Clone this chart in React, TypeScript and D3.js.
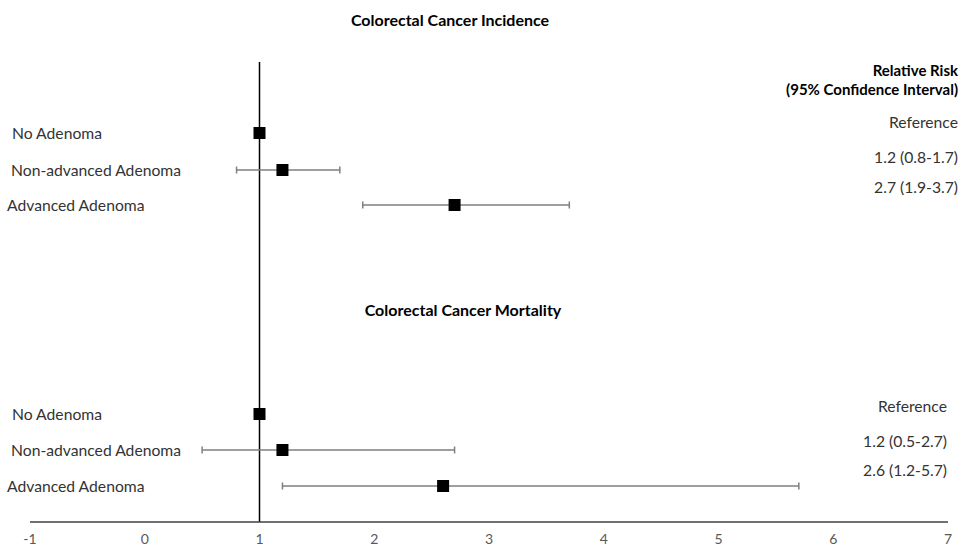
import React from 'react';
import * as d3 from 'd3';

const groups = ['Colorectal Cancer Incidence', 'Colorectal Cancer Mortality'];
const categories = ['No Adenoma', 'Non-advanced Adenoma', 'Advanced Adenoma'];
// relative risk, lower CI, upper CI per group
const incidenceRR = [1.0, 1.2, 2.7];
const incidenceLow = [null, 0.8, 1.9];
const incidenceHigh = [null, 1.7, 3.7];
const mortalityRR = [1.0, 1.2, 2.6];
const mortalityLow = [null, 0.5, 1.2];
const mortalityHigh = [null, 2.7, 5.7];
const incidenceText = ['Reference', '1.2 (0.8-1.7)', '2.7 (1.9-3.7)'];
const mortalityText = ['Reference', '1.2 (0.5-2.7)', '2.6 (1.2-5.7)'];
const xTicks = [-1, 0, 1, 2, 3, 4, 5, 6, 7];

const W = 961;
const H = 549;
const FONT = 'Lato, "Open Sans", sans-serif';

const App = () => {
  const x = d3.scaleLinear().domain([-1, 7]).range([30, 948]);
  // row positions (top to bottom)
  const y = d3.scaleOrdinal<string, number>()
    .domain(['i0', 'i1', 'i2', 'm0', 'm1', 'm2'])
    .range([133, 170, 205, 414, 450, 486]);

  const sets = [
    { key: 'i', rr: incidenceRR, lo: incidenceLow, hi: incidenceHigh, txt: incidenceText, txtY: [122, 157, 187], txtX: 958 },
    { key: 'm', rr: mortalityRR, lo: mortalityLow, hi: mortalityHigh, txt: mortalityText, txtY: [406, 441, 470], txtX: 947 },
  ];
  const labelX = [12, 11, 7];
  const axisY = 522;
  const sq = 12;

  return (
    <svg width={W} height={H} style={{ position: 'absolute', left: 0, top: 0, background: '#fff' }}>
      <text x={450} y={26} textAnchor="middle" fontFamily={FONT} fontWeight="bold" fontSize={16} fill="#000">{groups[0]}</text>
      <text x={463} y={316} textAnchor="middle" fontFamily={FONT} fontWeight="bold" fontSize={16} fill="#000">{groups[1]}</text>

      <text x={958} y={76} textAnchor="end" fontFamily={FONT} fontWeight="bold" fontSize={15} fill="#000">Relative Risk</text>
      <text x={958} y={95} textAnchor="end" fontFamily={FONT} fontWeight="bold" fontSize={15} fill="#000">(95% Confidence  Interval)</text>

      {/* reference line at RR = 1 */}
      <line x1={x(1)} x2={x(1)} y1={62} y2={axisY} stroke="#000" strokeWidth={1.5} />

      {/* x axis */}
      <line x1={x(-1)} x2={x(7)} y1={axisY} y2={axisY} stroke="#404040" strokeWidth={1.5} />
      {xTicks.map(t => (
        <text key={t} x={x(t)} y={544} textAnchor="middle" fontFamily={FONT} fontSize={14} fill="#595959">{t}</text>
      ))}

      {sets.map(s => (
        <g key={s.key}>
          {categories.map((c, i) => {
            const cy = y(s.key + i);
            const lo = s.lo[i];
            const hi = s.hi[i];
            return (
              <g key={c}>
                <text x={labelX[i]} y={cy + 6} fontFamily={FONT} fontSize={15.7} fill="#333">{c}</text>
                {lo != null && hi != null && (
                  <g stroke="#7f7f7f" strokeWidth={1.5}>
                    <line x1={x(lo)} x2={x(hi)} y1={cy} y2={cy} />
                    <line x1={x(lo)} x2={x(lo)} y1={cy - 3.5} y2={cy + 3.5} />
                    <line x1={x(hi)} x2={x(hi)} y1={cy - 3.5} y2={cy + 3.5} />
                  </g>
                )}
                <rect x={x(s.rr[i]) - sq / 2} y={cy - sq / 2} width={sq} height={sq} fill="#000" />
                <text x={s.txtX} y={s.txtY[i] + 6} textAnchor="end" fontFamily={FONT} fontSize={15.7} fill="#333">{s.txt[i]}</text>
              </g>
            );
          })}
        </g>
      ))}
    </svg>
  );
};

export default App;
